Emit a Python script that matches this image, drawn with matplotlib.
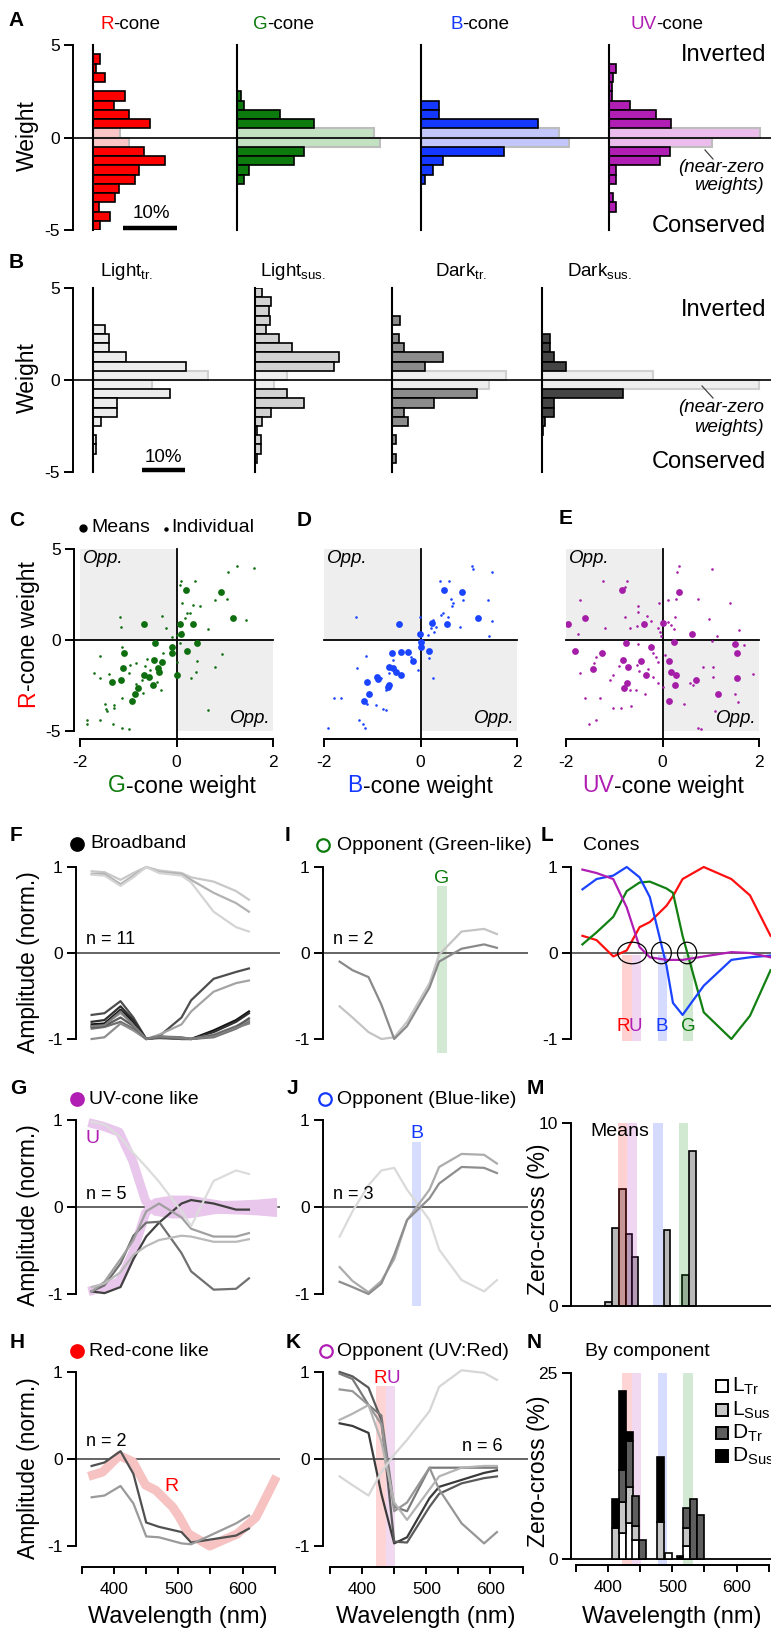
import numpy as np
import matplotlib
matplotlib.use("Agg")
import matplotlib.pyplot as plt
from matplotlib.patches import Ellipse

plt.rcParams['font.family'] = ['Liberation Sans', 'DejaVu Sans']
plt.rcParams['mathtext.fontset'] = 'custom'
plt.rcParams['mathtext.rm'] = 'Liberation Sans'
plt.rcParams['mathtext.it'] = 'Liberation Sans:italic'
plt.rcParams['mathtext.bf'] = 'Liberation Sans:bold'

# ======================= DATA =======================
weight_bins = [4.75, 4.25, 3.75, 3.25, 2.75, 2.25, 1.75, 1.25, 0.75, 0.25,
               -0.25, -0.75, -1.25, -1.75, -2.25, -2.75, -3.25, -3.75, -4.25, -4.75]
# Panel A (% of cells)
hist_R = [0, 1.25, 0.6, 2.25, 0, 5.9, 3.9, 6.75, 10.6, 5.0, 6.75, 9.5, 13.3, 8.6, 7.8, 4.8, 4.1, 1.1, 3.1, 1.25]
hist_G = [0, 0, 0, 0, 0, 0.75, 1.25, 7.9, 14.25, 25.4, 26.4, 12.4, 10.5, 2.2, 1.25, 0, 0, 0, 0, 0]
hist_B = [0, 0, 0, 0, 0, 0, 3.3, 3.3, 21.75, 25.5, 27.4, 15.3, 4.1, 2.2, 0.7, 0, 0, 0, 0, 0]
hist_UV = [0, 0, 1.3, 0.7, 0.6, 0.6, 3.9, 8.7, 11.5, 28.0, 19.0, 11.25, 9.5, 1.25, 1.25, 0, 0.7, 1.3, 0, 0]
# Panel B
hist_Ltr = [0, 0, 0, 0, 2.85, 3.6, 3.6, 7.7, 21.5, 26.5, 13.6, 17.7, 5.6, 5.6, 1.8, 0, 0.8, 0.8, 0, 0]
hist_Lsus = [1.7, 3.6, 3.3, 3.5, 2.5, 5.6, 8.5, 19.4, 18.3, 7.5, 4.4, 7.5, 11.4, 3.6, 1.7, 0.5, 1.5, 1.5, 0.5, 0]
hist_Dtr = [0, 0, 0, 1.8, 0, 1.7, 2.7, 11.7, 7.7, 26.4, 22.5, 19.6, 9.6, 2.7, 3.7, 0, 0.9, 0, 0.9, 0]
hist_Dsus = [0, 0, 0, 0, 0, 1.8, 1.8, 2.7, 5.6, 25.6, 50.0, 18.6, 2.7, 2.7, 0.8, 0.3, 0, 0, 0, 0]

# Panel C (G vs R)
c_mean_x = [0.19, 0.92, 1.18, -0.68, 0.07, 0.34, 0.10, -0.45, -0.10, -0.09, 0.42, 0.21, -1.09, -1.10,
            -0.47, -0.31, -0.38, -0.36, -0.68, -0.57, -1.14, -1.34, -0.48, -0.79, -0.86, -0.92, 0.01]
c_mean_y = [2.75, 2.62, 1.19, 0.86, 0.86, 0.86, 0.33, -0.15, -0.40, -0.70, -0.18, -0.59, -0.73, -1.52,
            -1.10, -1.23, -1.56, -1.74, -1.93, -2.06, -2.18, -2.33, -2.48, -2.62, -2.99, -3.36, -1.93]
c_ind_x = [1.25, 1.06, 1.61, 0.09, 0.38, 0.08, 0.79, 1.04, 0.12, 0.34, 0.48, -1.18, -1.14, -0.31, -0.22,
           0.21, 0.29, 0.17, 0.66, 1.44, -0.10, 0.0, 0.12, 0.07, -1.12, -1.59, 0.95, 0.79, 0.42, 0.41,
           0.31, 0.0, -0.28, -0.61, -0.83, -0.97, -0.99, -1.39, -1.71, -1.59, -0.66, -0.54, -0.72, -0.84,
           -0.70, -1.13, -1.29, -1.29, -1.48, -1.46, -1.45, -1.86, -1.86, -1.59, -1.31, -1.12, -0.99, 0.66,
           -0.33, -0.41]
c_ind_y = [4.04, 3.72, 3.93, 3.25, 3.25, 3.03, 2.2, 2.24, 2.06, 1.93, 1.87, 1.25, 0.73, 1.32, 0.68,
           1.50, 1.47, 1.19, 0.59, 1.10, 0.18, 0.28, 0.46, -0.18, -0.37, -0.86, -0.77, -1.47, -1.16, -1.74,
           -2.11, -1.19, -0.70, -1.06, -1.28, -1.38, -1.83, -1.89, -1.82, -2.07, -1.43, -1.65, -2.20, -2.42,
           -2.90, -3.17, -3.58, -3.76, -3.54, -3.80, -3.91, -4.40, -4.62, -4.37, -4.62, -4.81, -4.90, -3.85,
           -2.75, -2.29]
# Panel D (B vs R)
d_mean_x = [0.49, 0.85, 1.19, 0.54, 0.24, -0.01, 0.0, 0.02, 0.17, -0.44, -0.60, -0.40, -0.58, -0.65,
            -0.51, -0.88, -0.91, -1.10, -0.65, -0.68, -1.06, -1.17, -0.26, -0.15, -0.40]
d_mean_y = [2.75, 2.62, 1.21, 0.86, 0.92, 0.31, -0.09, -0.37, -0.61, 0.86, -0.70, -0.64, -1.56, -1.47,
            -1.74, -2.15, -2.02, -2.33, -2.48, -2.57, -2.99, -3.36, -0.64, -1.16, -1.93]
d_ind_x = [1.06, 1.08, 1.48, 0.41, 0.59, 1.40, 0.88, 0.63, 0.68, 0.65, 0.42, 0.47, 0.58, 0.25, 0.21,
           0.16, 0.33, 0.28, 1.48, 0.82, 1.42, -0.01, 0.04, 0.18, 0.26, -0.05, -0.19, -1.33, -1.13, -1.31,
           -1.79, -1.64, -1.10, -0.92, -0.78, -0.72, -1.27, -1.20, -1.15, -1.92, -0.66, -0.82, -0.58, -0.72]
d_ind_y = [4.04, 3.90, 3.72, 3.25, 3.25, 2.2, 2.2, 2.24, 2.02, 1.87, 1.38, 1.47, 1.25, 1.10, 0.64,
           0.28, 0.73, 0.46, 1.06, 0.73, 0.24, 1.28, -0.37, -1.01, -2.11, -1.65, -0.92, 1.25, -0.86, -1.52,
           -3.17, -3.17, -3.52, -3.58, -3.80, -3.85, -4.40, -4.62, -4.86, -4.81, -1.83, -2.11, -1.10, -2.75]
# Panel E (UV vs R)
e_mean_x = [-0.83, 0.34, -1.60, -1.96, -0.39, 0.0, 0.62, -0.76, -0.23, 0.23, 1.51, 1.54, -1.82, -1.26,
            -0.81, -0.44, 0.14, -0.72, 0.18, -0.34, 0.27, -1.45, 1.54, 0.70, -0.73, -0.79, 0.26, 1.16, 0.14]
e_mean_y = [2.75, 2.62, 1.19, 0.86, 0.86, 0.92, 0.33, -0.15, -0.40, -0.13, -0.20, -0.70, -0.61, -0.73,
            -1.10, -1.16, -1.16, -1.50, -1.74, -1.93, -1.93, -1.60, -2.07, -2.20, -2.35, -2.61, -2.48, -2.99, -3.36]
e_ind_x = [0.34, 0.30, 1.02, -0.74, -1.23, -0.78, -1.70, 0.12, 0.27, 0.74, 1.39, -0.08, -0.51, -0.50, -0.32,
           0.25, -0.78, -1.20, -0.68, -0.53, -0.23, 0.11, 0.18, 0.23, -0.10, -0.06, -0.03, 0.97, 1.59, -1.75,
           1.12, 1.03, 1.68, -0.50, -0.19, -0.13, 0.06, -0.10, -1.38, -1.71, -1.41, -0.90, -1.03, -1.09, -0.52,
           -0.49, -0.30, -0.20, -0.37, -0.68, -0.54, -1.03, -0.85, -0.66, -1.60, -1.30, -1.53, -1.38, 0.83,
           1.04, 1.04, 0.56, 0.45, 0.63, 1.87, 1.51, 1.56, 0.01, -0.10, 0.73, 0.80, 1.09]
e_ind_y = [4.04, 3.76, 3.91, 3.25, 3.25, 2.9, 2.2, 2.2, 2.24, 2.24, 2.06, 2.02, 1.87, 1.56, 1.32,
           1.28, 1.25, 0.64, 0.68, 0.77, 1.06, 1.01, 0.83, 0.59, 0.68, 0.46, 0.22, 1.14, 0.55, 0.31,
           0.22, -0.04, -0.28, -0.24, -0.70, -0.92, -0.83, -1.19, -0.92, -1.83, -1.28, -1.43, -1.93, -2.20, -1.38,
           -1.71, -1.61, -2.02, -2.99, -2.75, -2.72, -3.72, -3.71, -3.63, -3.17, -3.17, -4.62, -4.40, -1.47,
           -1.47, -2.02, -2.35, -3.49, -2.48, -1.89, -2.94, -3.39, -2.57, -2.35, -4.83, -4.90, -3.89]

# Spectral tuning (normalised amplitude) at stimulus wavelengths
led_wl = [365, 385, 410, 430, 450, 470, 505, 520, 555, 590, 610]
F_curves = [
    [0.95, 0.94, 0.85, 0.93, 1.0, 0.96, 0.93, 0.88, 0.83, 0.72, 0.62],
    [0.92, 0.92, 0.80, 0.90, 1.0, 0.94, 0.92, 0.85, 0.70, 0.58, 0.48],
    [0.91, 0.90, 0.78, 0.88, 1.0, 0.93, 0.90, 0.82, 0.48, 0.30, 0.25],
    [-0.72, -0.70, -0.56, -0.75, -1.0, -0.97, -0.75, -0.55, -0.30, -0.22, -0.18],
    [-0.85, -0.83, -0.70, -0.82, -1.0, -0.95, -0.83, -0.68, -0.45, -0.35, -0.32],
    [-0.83, -0.82, -0.66, -0.80, -1.0, -0.98, -0.99, -1.0, -0.90, -0.78, -0.68],
    [-0.80, -0.78, -0.62, -0.78, -1.0, -0.98, -1.0, -1.0, -0.92, -0.80, -0.70],
    [-0.88, -0.86, -0.80, -0.88, -1.0, -0.97, -0.98, -1.0, -0.98, -0.88, -0.80],
    [-1.0, -0.98, -0.82, -0.90, -1.0, -0.98, -0.99, -1.0, -0.95, -0.85, -0.78],
    [-0.86, -0.85, -0.75, -0.85, -1.0, -0.99, -1.0, -1.0, -0.96, -0.86, -0.76],
    [-0.85, -0.84, -0.68, -0.84, -1.0, -0.97, -0.99, -1.0, -0.97, -0.87, -0.82],
]
G_curves = [
    [-0.97, -0.99, -0.92, -0.60, -0.34, -0.18, 0.04, 0.08, 0.04, -0.03, -0.03],
    [-0.97, -0.90, -0.65, -0.33, -0.18, -0.17, -0.53, -0.74, -0.95, -0.94, -0.82],
    [-0.97, -0.86, -0.60, -0.38, -0.05, 0.04, -0.12, -0.25, -0.34, -0.34, -0.30],
    [-0.92, -0.88, -0.75, -0.55, -0.45, -0.38, -0.33, -0.34, -0.40, -0.40, -0.37],
    [0.98, 0.95, 0.80, 0.62, 0.46, 0.29, -0.05, -0.22, 0.30, 0.42, 0.38],
]
H_curves = [
    [-0.08, -0.04, 0.09, -0.17, -0.73, -0.78, -0.84, -0.96, -0.92, -0.88, -0.80],
    [-0.44, -0.42, -0.31, -0.51, -0.89, -0.90, -0.97, -0.98, -0.86, -0.74, -0.65],
]
I_curves = [
    [-0.62, -0.75, -0.92, -1.0, -0.98, -0.80, -0.35, -0.02, 0.25, 0.28, 0.22],
    [-0.10, -0.20, -0.28, -0.60, -1.0, -0.85, -0.40, -0.10, 0.05, 0.10, 0.06],
]
J_curves = [
    [-0.34, -0.05, 0.25, 0.42, 0.45, 0.20, -0.15, -0.49, -0.84, -0.97, -0.84],
    [-0.69, -0.85, -0.98, -0.85, -0.60, -0.15, 0.20, 0.46, 0.61, 0.60, 0.50],
    [-0.86, -0.92, -1.0, -0.88, -0.55, -0.15, 0.10, 0.27, 0.46, 0.45, 0.39],
]
K_curves = [
    [0.41, 0.38, 0.30, -0.40, -0.97, -0.90, -0.45, -0.32, -0.24, -0.16, -0.13],
    [1.0, 0.95, 0.82, 0.45, -0.95, -0.96, -0.55, -0.40, -0.28, -0.22, -0.20],
    [0.98, 0.92, 0.62, 0.50, -0.55, -0.60, -0.10, -0.10, -0.10, -0.10, -0.10],
    [0.80, 0.78, 0.62, 0.40, -0.60, -0.50, -0.10, -0.35, -0.74, -0.97, -0.84],
    [0.45, 0.52, 0.62, 0.20, -0.50, -0.70, -0.35, -0.20, -0.10, -0.08, -0.08],
    [-0.20, -0.30, -0.42, -0.15, 0.05, 0.22, 0.55, 0.83, 1.02, 0.99, 0.91],
]
# Cone spectral templates (panel L)
cone_wl = [360, 382, 408, 429, 449, 465, 491, 501, 516, 549, 592, 621, 653]
cone_R = [0.20, 0.15, -0.04, 0.03, 0.30, 0.36, 0.55, 0.66, 0.86, 1.0, 0.86, 0.67, 0.20]
cone_G = [0.10, 0.24, 0.42, 0.72, 0.82, 0.83, 0.75, 0.70, 0.20, -0.69, -1.0, -0.73, -0.20]
cone_B = [0.74, 0.86, 0.90, 1.0, 0.88, 0.65, -0.15, -0.58, -0.72, -0.38, -0.08, -0.05, -0.03]
cone_UV = [0.97, 0.93, 0.86, 0.53, 0.07, -0.05, -0.08, -0.08, -0.08, -0.04, 0.01, 0.0, -0.05]
zc_centers = [437.5, 483, 523]
zc_widths = [45, 31, 30]
band_R = (422, 437)
band_U = (437, 451)
band_B = (478, 492)
band_G = (517, 532)
bandM_R = (416, 430)
bandM_U = (430, 445)
bandM_B = (470, 485)
bandM_G = (511, 525)
# Panel M: zero-crossing histogram of means
M_centers = [401, 411.5, 422.5, 432.5, 442, 491.5, 521, 531.5]
M_pct = [0.24, 4.27, 6.42, 3.96, 2.68, 4.14, 1.68, 8.49]
# Panel N: by component (stacked)
N_centers = [411.5, 422.5, 433, 443, 453.5, 482, 493.5, 512, 522, 532.5, 543.5]
N_LTr = [0, 3.5, 4.9, 2.6, 0, 0, 0.85, 0, 1.8, 0, 0]
N_LSus = [4.2, 4.2, 4.8, 1.9, 0, 5.0, 0, 0, 2.4, 0, 0]
N_DTr = [0, 4.3, 6.1, 4.0, 2.6, 0, 0, 0, 2.7, 8.0, 5.9]
N_DSus = [3.8, 10.6, 1.3, 0, 0, 8.7, 0, 0.4, 0, 0, 0]

# ======================= STYLE =======================
CR, CG, CB, CU = '#ff0000', '#0c7a0c', '#1438ff', '#b01eb3'
W, H = 771, 1630
fig = plt.figure(figsize=(W / 100, H / 100), dpi=100)
renderer = fig.canvas.get_renderer()
TICK = 12.5


def px_axes(l, t, r, b):
    return fig.add_axes([l / W, 1 - b / H, (r - l) / W, (b - t) / H])


def ftext(x, y, s, **kw):
    return fig.text(x / W, 1 - y / H, s, **kw)


def text_width(s, **kw):
    t = fig.text(0, 0, s, **kw)
    w = t.get_window_extent(renderer=renderer).width
    t.remove()
    return w


def multicolor(x, y, parts, ha='left', va='center', vertical=False, **kw):
    widths = [text_width(s, **kw) for s, c in parts]
    total = sum(widths)
    if not vertical:
        start = x - total / 2 if ha == 'center' else x
        for (s, c), w in zip(parts, widths):
            ftext(start, y, s, color=c, ha='left', va=va, **kw)
            start += w
    else:
        start = (H - y) - total / 2
        for (s, c), w in zip(parts, widths):
            fig.text(x / W, start / H, s, color=c, rotation=90, rotation_mode='anchor',
                     ha='left', va='center', **kw)
            start += w


def clean(ax, left=True, bottom=False):
    for s in ['top', 'right']:
        ax.spines[s].set_visible(False)
    ax.spines['left'].set_visible(left)
    ax.spines['bottom'].set_visible(bottom)
    for s in ['left', 'bottom']:
        ax.spines[s].set_linewidth(1.4)
    if not left:
        ax.set_yticks([])
    if not bottom:
        ax.set_xticks([])
    ax.tick_params(axis='y', length=6.5, width=1.4, pad=3, labelsize=TICK)
    ax.tick_params(axis='x', length=5, width=1.4, pad=6, labelsize=TICK)
    ax.patch.set_alpha(0)


def draw_hist(ax, off, vals, color, nzc, nze):
    mb = [b for b, v in zip(weight_bins, vals) if abs(b) > 0.5 and v > 0]
    mv = [v for b, v in zip(weight_bins, vals) if abs(b) > 0.5 and v > 0]
    nb = [b for b in weight_bins if abs(b) < 0.5]
    nv = [v for b, v in zip(weight_bins, vals) if abs(b) < 0.5]
    ax.barh(nb, nv, height=0.5, left=off, color=nzc, edgecolor=nze, lw=1.5, zorder=2)
    ax.barh(mb, mv, height=0.5, left=off, color=color, edgecolor='k', lw=1.2, zorder=3)
    ax.plot([off, off], [-5, 5], color='k', lw=1.5, zorder=4, clip_on=False)


def hist_axes(top, bottom, scale):
    ax = px_axes(73, top, 771, bottom)
    ax.set_xlim(0, (771 - 73) / scale)
    ax.set_ylim(-5, 5)
    clean(ax)
    ax.spines['left'].set_bounds(-5, 5)
    ax.set_yticks([-5, 0, 5])
    ax.set_yticklabels(['-5', '0', '5'])
    ax.axhline(0, color='k', lw=1.2, zorder=5)
    return ax

# ---------------- Panel A ----------------
sA = 5.4
axA = hist_axes(45, 230, sA)
baseA = [93, 237, 421, 609]
histsA = [hist_R, hist_G, hist_B, hist_UV]
colsA = [CR, CG, CB, CU]
nzA = ['#fbc6c6', '#c2e2c2', '#c2c6fa', '#ecbcec']
for p, hv, c, nz in zip(baseA, histsA, colsA, nzA):
    draw_hist(axA, (p - 73) / sA, hv, c, nz, '#bdbdbd')
axA.plot([(123 - 73) / sA, (177 - 73) / sA], [-4.88, -4.88], color='k', lw=3.2,
         solid_capstyle='butt', clip_on=False)
ftext(151, 214, '10%', fontsize=13.5, ha='center', va='center')
for x0, name, col in zip([100, 253, 450, 630], ['R', 'G', 'B', 'UV'], colsA):
    multicolor(x0, 29, [(name, col), ('-cone', 'k')], va='baseline', fontsize=13.5)
ftext(27, 136, 'Weight', fontsize=16.5, rotation=90, ha='center', va='center')
ftext(766, 55, 'Inverted', fontsize=17, ha='right', va='center')
ftext(766, 226, 'Conserved', fontsize=17, ha='right', va='center')
ftext(764, 167, '(near-zero', fontsize=13.5, style='italic', ha='right', va='center')
ftext(764, 186, 'weights)', fontsize=13.5, style='italic', ha='right', va='center')
fig.add_artist(plt.Line2D([705 / W, 713 / W], [1 - 150 / H, 1 - 159 / H], color='#444', lw=0.9))

# ---------------- Panel B ----------------
sB = 4.33
axB = hist_axes(288, 472, sB)
baseB = [93, 255, 392, 542]
histsB = [hist_Ltr, hist_Lsus, hist_Dtr, hist_Dsus]
colsB = ['#ececec', '#d2d2d2', '#8c8c8c', '#444444']
for p, hv, c in zip(baseB, histsB, colsB):
    draw_hist(axB, (p - 73) / sB, hv, c, '#efefef', '#d0d0d0')
axB.plot([(142 - 73) / sB, (185 - 73) / sB], [-4.9, -4.9], color='k', lw=3.2,
         solid_capstyle='butt', clip_on=False)
ftext(163, 457, '10%', fontsize=13.5, ha='center', va='center')
for x0, nm, sub in zip([100, 260, 435, 567], ['Light', 'Light', 'Dark', 'Dark'],
                       ['tr.', 'sus.', 'tr.', 'sus.']):
    ftext(x0, 276, nm + r'$_{\mathregular{' + sub + '}}$', fontsize=13.5, ha='left', va='baseline')
ftext(27, 378, 'Weight', fontsize=16.5, rotation=90, ha='center', va='center')
ftext(766, 310, 'Inverted', fontsize=17, ha='right', va='center')
ftext(766, 462, 'Conserved', fontsize=17, ha='right', va='center')
ftext(764, 407, '(near-zero', fontsize=13.5, style='italic', ha='right', va='center')
ftext(764, 427, 'weights)', fontsize=13.5, style='italic', ha='right', va='center')
fig.add_artist(plt.Line2D([702 / W, 713 / W], [1 - 386 / H, 1 - 398 / H], color='#444', lw=0.9))

# ---------------- Panels C, D, E ----------------
scat = [(80, c_mean_x, c_mean_y, c_ind_x, c_ind_y, '#0f6e0f', True),
        (324, d_mean_x, d_mean_y, d_ind_x, d_ind_y, '#1a44ff', False),
        (566, e_mean_x, e_mean_y, e_ind_x, e_ind_y, '#a51ea8', False)]
for x0, mx, my, ix, iy, col, first in scat:
    ax = px_axes(x0, 549, x0 + 193, 731)
    ax.set_xlim(-2, 2)
    ax.set_ylim(-5, 5)
    clean(ax, left=first, bottom=True)
    ax.spines['bottom'].set_position(('outward', 6))
    ax.spines['bottom'].set_bounds(-2, 2)
    ax.set_xticks([-2, 0, 2])
    ax.set_xticklabels(['-2', '0', '2'])
    ax.tick_params(axis='x', length=6, pad=5)
    if first:
        ax.spines['left'].set_position(('outward', 4.5))
        ax.spines['left'].set_bounds(-5, 5)
        ax.set_yticks([-5, 0, 5])
        ax.set_yticklabels(['-5', '0', '5'])
    ax.fill_between([-2, 0], 0, 5, color='#eeeeee', lw=0, zorder=0)
    ax.fill_between([0, 2], -5, 0, color='#eeeeee', lw=0, zorder=0)
    ax.plot([-2.13 if first else -2, 2], [0, 0], color='k', lw=1.3, clip_on=False, zorder=2)
    ax.plot([0, 0], [5, -5.45], color='k', lw=1.3, clip_on=False, zorder=2)
    ax.scatter(ix, iy, s=3.5, color=col, lw=0, zorder=3)
    ax.scatter(mx, my, s=24, color=col, lw=0, zorder=4)
    ax.text(-1.93, 4.5, 'Opp.', style='italic', fontsize=13.5, ha='left', va='center')
    ax.text(1.95, -4.3, 'Opp.', style='italic', fontsize=13.5, ha='right', va='center')
    if first:
        ax.plot([83 / W], [1 - 528 / H], 'o', ms=5, color='k', transform=fig.transFigure, clip_on=False)
        ax.plot([166 / W], [1 - 529 / H], 'o', ms=2.2, color='k', transform=fig.transFigure, clip_on=False)
ftext(91, 528, 'Means', fontsize=14, ha='left', va='center')
ftext(171, 528, 'Individual', fontsize=14, ha='left', va='center')
multicolor(182, 786, [('G', CG), ('-cone weight', 'k')], ha='center', fontsize=16.5)
multicolor(420, 786, [('B', CB), ('-cone weight', 'k')], ha='center', fontsize=16.5)
multicolor(663, 786, [('UV', CU), ('-cone weight', 'k')], ha='center', fontsize=16.5)
multicolor(28, 634, [('R', CR), ('-cone weight', 'k')], vertical=True, fontsize=16.5)

# ---------------- Spectral panels ----------------
PPN = 0.642


def spec_ax(spine, nm_left, nm_right, zero, ppu, vmin, vmax, bottom=False):
    ax = px_axes(spine, zero - vmax * ppu, spine + (nm_right - nm_left) * PPN, zero - vmin * ppu)
    ax.set_xlim(nm_left, nm_right)
    ax.set_ylim(vmin, vmax)
    clean(ax, left=True, bottom=bottom)
    if bottom:
        ax.spines['bottom'].set_bounds(350, 650)
        ax.set_xticks([350, 400, 450, 500, 550, 600, 650])
        ax.set_xticklabels(['', '400', '', '500', '', '600', ''])
    return ax


def amp_ax(ax):
    ax.spines['left'].set_bounds(-1, 1)
    ax.set_yticks([-1, 0, 1])
    ax.set_yticklabels(['-1', '0', '1'])
    ax.axhline(0, color='#4a4a4a', lw=1.2, zorder=1)


def band(ax, rng, col, y0, y1, alpha=0.18, z=0.5):
    ax.fill_between(list(rng), y0, y1, color=col, alpha=alpha, lw=0, zorder=z)


LEFT = (76, 340.65, 658)
MID = (323, 339.1, 658)
RIGHT = (571, 342.2, 720)
R1 = (953, 86)
R2 = (1207, 87)
R3 = (1459, 87)
lowH = -(1567 - 1459) / 87

gF = ['#c8c8c8', '#b2b2b2', '#d4d4d4', '#4e4e4e', '#a4a4a4', '#151515', '#303030', '#6e6e6e',
      '#8e8e8e', '#5c5c5c', '#7e7e7e']
axF = spec_ax(*LEFT[:1], LEFT[1], LEFT[2], *R1, -1.25, 1.1)
amp_ax(axF)
for cv, g in zip(F_curves, gF):
    axF.plot(led_wl, cv, color=g, lw=1.6, zorder=3)
axF.text(357, 0.06, 'n = 11', fontsize=13, va='bottom', ha='left')

axG = spec_ax(LEFT[0], LEFT[1], LEFT[2], *R2, -1.25, 1.1)
amp_ax(axG)
uvn = [-v for v in cone_UV]
axG.plot(cone_wl, cone_UV, color='#e9c6ec', lw=6.5, zorder=1.2, solid_capstyle='butt')
axG.plot(cone_wl, uvn, color='#e9c6ec', lw=6.5, zorder=1.2, solid_capstyle='butt')
hwG = [0.05, 0.05, 0.05, 0.05, 0.05, 0.05, 0.06, 0.06, 0.06, 0.07, 0.08, 0.09, 0.11]
axG.fill_between(cone_wl[4:], [-h for h in hwG[4:]], [h for h in hwG[4:]],
                 color='#e9c6ec', lw=0, zorder=1.2)
gG = ['#404040', '#707070', '#a0a0a0', '#bababa', '#dcdcdc']
for cv, g in zip(G_curves, gG):
    axG.plot(led_wl, cv, color=g, lw=1.6, zorder=3)
axG.text(357, 0.05, 'n = 5', fontsize=13, va='bottom', ha='left')
axG.text(367, 0.79, 'U', color=CU, fontsize=14, ha='center', va='center')

axH = spec_ax(LEFT[0], LEFT[1], LEFT[2], *R3, lowH, 1.1, bottom=True)
amp_ax(axH)
rn = [-v for v in cone_R]
axH.plot(cone_wl, rn, color='#f6c2c2', lw=6.5, zorder=1.2, solid_capstyle='butt')
for cv, g in zip(H_curves, ['#505050', '#9a9a9a']):
    axH.plot(led_wl, cv, color=g, lw=1.6, zorder=3)
axH.text(357, 0.1, 'n = 2', fontsize=13, va='bottom', ha='left')
axH.text(490, -0.32, 'R', color=CR, fontsize=14, ha='center', va='center')

axI = spec_ax(MID[0], MID[1], MID[2], *R1, -1.25, 1.1)
amp_ax(axI)
band(axI, band_G, '#008000', -1.16, 0.78, alpha=0.17)
axI.text(524.5, 0.87, 'G', color=CG, fontsize=14, ha='center', va='center')
for cv, g in zip(I_curves, ['#c4c4c4', '#8a8a8a']):
    axI.plot(led_wl, cv, color=g, lw=1.6, zorder=3)
axI.text(355, 0.06, 'n = 2', fontsize=13, va='bottom', ha='left')

axJ = spec_ax(MID[0], MID[1], MID[2], *R2, -1.25, 1.1)
amp_ax(axJ)
band(axJ, band_B, '#1438ff', -1.14, 0.75, alpha=0.17)
axJ.text(486, 0.85, 'B', color=CB, fontsize=14, ha='center', va='center')
for cv, g in zip(J_curves, ['#dadada', '#acacac', '#8e8e8e']):
    axJ.plot(led_wl, cv, color=g, lw=1.6, zorder=3)
axJ.text(355, 0.05, 'n = 3', fontsize=13, va='bottom', ha='left')

axK = spec_ax(MID[0], MID[1], MID[2], *R3, lowH, 1.1, bottom=True)
amp_ax(axK)
band(axK, band_R, '#ff0000', lowH, 0.84, alpha=0.17)
band(axK, band_U, '#b01eb3', lowH, 0.84, alpha=0.17)
axK.text(428.5, 0.93, 'R', color=CR, fontsize=13.5, ha='center', va='center')
axK.text(448, 0.93, 'U', color=CU, fontsize=13.5, ha='center', va='center')
for cv, g in zip(K_curves, ['#3a3a3a', '#5a5a5a', '#7a7a7a', '#969696', '#b4b4b4', '#d6d6d6']):
    axK.plot(led_wl, cv, color=g, lw=1.6, zorder=3)
axK.text(619, 0.05, 'n = 6', fontsize=13, va='bottom', ha='right')

axL = spec_ax(RIGHT[0], RIGHT[1], RIGHT[2], *R1, -1.25, 1.1)
amp_ax(axL)
for rng, col in zip([band_R, band_U, band_B, band_G], ['#ff0000', '#b01eb3', '#1438ff', '#008000']):
    band(axL, rng, col, -1.02, -0.02)
for cv, col in zip([cone_R, cone_G, cone_B, cone_UV], ['#ff1010', '#128012', '#1a44ff', '#b01eb3']):
    axL.plot(cone_wl, cv, color=col, lw=1.6, zorder=3)
for cx, wd in zip(zc_centers, zc_widths):
    axL.add_patch(Ellipse((cx, 0), wd, 0.25, fill=False, ec='k', lw=0.9, zorder=4))
for lab, xx, col in zip(['R', 'U', 'B', 'G'], [423.5, 443, 484, 525], [CR, CU, CB, CG]):
    axL.text(xx, -0.86, lab, color=col, fontsize=13.5, ha='center', va='center', zorder=5)

axM = spec_ax(RIGHT[0], RIGHT[1], RIGHT[2], 1306, 18.3, -0.6, 10.5)
axM.spines['left'].set_bounds(0, 10)
axM.set_yticks([0, 10])
axM.set_yticklabels(['0', '10'])
axM.axhline(0, color='k', lw=1.3, zorder=3)
axM.bar(M_centers, M_pct, width=10.3, color='#b8b8b8', edgecolor='k', lw=1.2, zorder=2)
for rng, col in zip([bandM_R, bandM_U, bandM_B, bandM_G], ['#ff0000', '#b01eb3', '#1438ff', '#008000']):
    band(axM, rng, col, 0, 10, alpha=0.18, z=2.5)
ftext(590, 1132, 'Means', fontsize=14, ha='left', va='center')

lowN = -(1565 - 1559) / 7.44
axN = spec_ax(RIGHT[0], RIGHT[1], RIGHT[2], 1559, 7.44, lowN, 26, bottom=True)
axN.spines['left'].set_bounds(0, 25)
axN.set_yticks([0, 25])
axN.set_yticklabels(['0', '25'])
axN.axhline(0, color='k', lw=1.3, zorder=1)
for rng, col in zip([band_R, band_U, band_B, band_G], ['#ff0000', '#b01eb3', '#1438ff', '#008000']):
    band(axN, rng, col, lowN, 25, alpha=0.17, z=0.5)
bottoms = [0.0] * len(N_centers)
for vals, col in zip([N_LTr, N_LSus, N_DTr, N_DSus], ['#ffffff', '#c6c6c6', '#5e5e5e', '#000000']):
    idx = [i for i, v in enumerate(vals) if v > 0]
    axN.bar([N_centers[i] for i in idx], [vals[i] for i in idx], width=10.5,
            bottom=[bottoms[i] for i in idx], color=col, edgecolor='k', lw=1.2, zorder=2)
    bottoms = [b + v for b, v in zip(bottoms, vals)]
ftext(585, 1351, 'By component', fontsize=14, ha='left', va='center')
for yy, lab, col in zip([1386, 1410, 1433, 1456],
                        [r'L$_{\mathregular{Tr}}$', r'L$_{\mathregular{Sus}}$',
                         r'D$_{\mathregular{Tr}}$', r'D$_{\mathregular{Sus}}$'],
                        ['#ffffff', '#c6c6c6', '#5e5e5e', '#000000']):
    axN.plot([722 / W], [1 - yy / H], 's', ms=8, mfc=col, mec='k', mew=1.4,
             transform=fig.transFigure, clip_on=False)
    ftext(732, yy, lab, fontsize=15, ha='left', va='center')

# subtitles with symbols
subs = [(77, 844, 'Broadband', 'k', True, 90), (323, 845, 'Opponent (Green-like)', CG, False, 337),
        (77, 1099, 'UV-cone like', CU, True, 89), (325, 1099, 'Opponent (Blue-like)', CB, False, 337),
        (77, 1351, 'Red-cone like', CR, True, 89), (326, 1351, 'Opponent (UV:Red)', CU, False, 337)]
for mx, my, txt, col, filled, tx in subs:
    axF.plot([mx / W], [1 - my / H], 'o', ms=9, mfc=col if filled else 'none', mec=col,
             mew=1.6, transform=fig.transFigure, clip_on=False)
    ftext(tx, my, txt, fontsize=14, ha='left', va='center')
ftext(583, 845, 'Cones', fontsize=14, ha='left', va='center')

for cy in [962, 1215, 1468]:
    ftext(29, cy, 'Amplitude (norm.)', fontsize=16.5, rotation=90, ha='center', va='center')
for cy in [1219, 1471]:
    ftext(538, cy, 'Zero-cross (%)', fontsize=16.5, rotation=90, ha='center', va='center')
for cx in [178, 426, 672]:
    ftext(cx, 1617, 'Wavelength (nm)', fontsize=17, ha='center', va='center')

# panel letters
for lab, x, y in [('A', 16, 20), ('B', 16, 262), ('C', 17, 520), ('D', 304, 520), ('E', 566, 519),
                  ('F', 16, 835), ('I', 288, 835), ('L', 547, 835), ('G', 18, 1089), ('J', 292, 1089),
                  ('M', 535, 1088), ('H', 17, 1343), ('K', 293, 1343), ('N', 534, 1342)]:
    ftext(x, y, lab, fontsize=15, fontweight='bold', ha='center', va='center')

fig.savefig('out.png', dpi=100)
